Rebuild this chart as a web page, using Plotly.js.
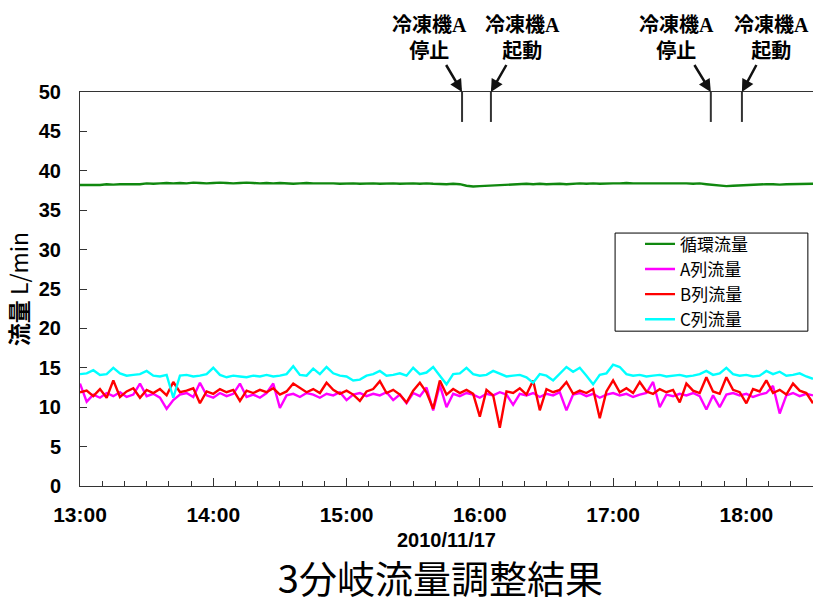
<!DOCTYPE html>
<html>
<head>
<meta charset="utf-8">
<script src="https://cdn.plot.ly/plotly-3.0.1.min.js"></script>
<style>html,body{margin:0;padding:0;background:#fff;}#chart{width:814px;height:604px;}</style>
</head>
<body>
<div id="chart"></div>
<script>
// sampling: every 3 minutes from 13:00 to 18:30 on 2010/11/17
const startTime = '2010-11-17T13:00:00';
const stepMinutes = 3;

const seriesNames = ['循環流量', 'A列流量', 'B列流量', 'C列流量'];

const circulation = [
38.2,38.2,38.25,38.2,38.3,38.25,38.3,38.3,38.35,38.3,
38.4,38.35,38.4,38.45,38.4,38.45,38.4,38.5,38.45,38.4,
38.45,38.5,38.45,38.4,38.45,38.5,38.45,38.4,38.45,38.4,
38.45,38.4,38.35,38.4,38.45,38.4,38.4,38.45,38.4,38.35,
38.4,38.4,38.35,38.4,38.4,38.35,38.4,38.4,38.35,38.4,
38.4,38.35,38.4,38.35,38.3,38.3,38.35,38.3,38.1,38.0,
38.05,38.1,38.15,38.2,38.25,38.3,38.3,38.35,38.3,38.35,
38.3,38.35,38.35,38.3,38.35,38.4,38.35,38.4,38.35,38.4,
38.4,38.4,38.45,38.4,38.4,38.45,38.4,38.4,38.45,38.4,
38.4,38.4,38.35,38.4,38.3,38.2,38.1,38.05,38.1,38.15,
38.2,38.2,38.25,38.3,38.3,38.25,38.3,38.3,38.3,38.3,38.35];

const rowA = [
13.0,10.7,11.6,11.2,11.8,11.4,11.9,11.3,11.6,13.0,
11.4,11.7,11.2,9.8,10.9,11.6,11.8,11.3,13.1,11.5,
11.2,11.8,11.4,11.7,13.0,11.3,11.6,11.2,11.8,13.0,
9.9,11.5,11.7,11.3,11.8,11.6,11.2,11.7,11.5,11.9,
10.9,11.6,11.8,11.4,11.7,11.5,11.9,10.9,11.6,10.5,
11.8,11.4,12.5,9.6,12.8,10.0,11.7,11.4,11.8,11.6,
11.2,11.7,11.5,11.9,11.6,10.3,11.7,11.5,11.8,11.3,
11.7,11.5,11.9,9.6,11.6,11.8,11.4,11.7,11.2,11.6,
11.8,11.5,11.7,11.3,11.6,11.8,13.2,10.0,11.6,11.4,
11.7,11.5,11.8,11.4,9.7,11.5,10.0,11.6,11.8,11.5,
11.7,11.3,11.6,11.8,12.7,9.2,11.5,11.8,11.4,11.7,11.5];

const rowB = [
11.9,12.1,11.4,12.3,11.2,13.4,11.3,12.0,12.4,11.2,
12.2,11.8,12.3,11.5,13.2,11.9,12.1,12.4,10.5,12.0,
11.7,12.3,11.9,12.2,10.8,12.1,11.8,12.2,11.9,12.4,
11.6,12.0,13.0,12.4,11.9,12.3,11.8,13.1,12.2,11.7,
12.1,11.6,10.8,12.0,12.3,13.3,11.8,12.2,11.6,10.6,
12.1,13.1,11.9,9.8,13.4,11.6,12.3,11.8,12.2,11.7,
8.8,12.2,11.5,7.4,12.0,11.8,12.4,11.6,13.4,9.6,
12.3,11.9,12.2,13.2,11.7,12.1,11.8,12.3,8.6,12.0,
13.4,11.9,12.4,11.8,13.2,12.0,11.7,12.3,11.9,12.2,
10.6,13.0,12.1,11.8,13.8,12.0,11.7,13.8,12.2,11.9,
10.5,12.3,12.0,13.4,11.8,12.2,11.6,13.0,12.1,11.8,10.5];

const rowC = [
14.2,14.3,14.7,14.1,14.2,15.0,14.3,14.0,14.1,14.2,
14.6,14.0,13.9,14.1,11.2,14.0,14.1,13.9,14.0,14.2,
15.0,14.1,13.8,14.0,13.9,13.8,14.0,13.9,14.1,13.9,
14.0,14.2,15.2,14.1,14.0,14.9,14.2,15.1,14.3,14.0,
13.9,13.4,13.5,14.0,14.2,14.6,14.0,14.1,14.3,14.0,
15.0,14.2,14.4,15.1,14.0,12.9,14.2,14.3,15.0,14.2,
14.0,14.1,14.6,14.2,13.9,14.0,14.1,13.8,13.1,14.2,
14.0,13.4,14.3,15.1,14.5,15.0,14.0,12.9,14.1,14.3,
15.4,15.1,14.2,14.0,14.1,13.9,14.0,14.1,13.9,14.0,
14.1,13.9,14.0,14.2,14.6,14.1,14.3,15.0,14.2,14.0,
14.1,13.9,14.0,14.6,14.2,14.5,14.0,14.1,14.3,13.9,13.6];

const seriesColors = ['#10880f', '#ff00ff', '#ff0000', '#00ffff'];

// events (冷凍機A stop / start)
const eventTimes = ['2010-11-17 15:52', '2010-11-17 16:05', '2010-11-17 17:44', '2010-11-17 17:58'];
const eventLabels = ['停止', '起動', '停止', '起動'];
const eventMarkTop = 50;
const eventMarkBottom = 46.2;

const xTickLabels = ['13:00', '14:00', '15:00', '16:00', '17:00', '18:00'];
const xTickValues = ['2010-11-17 13:00', '2010-11-17 14:00', '2010-11-17 15:00', '2010-11-17 16:00', '2010-11-17 17:00', '2010-11-17 18:00'];

function pad(n){return (n<10?'0':'')+n;}
const t0 = new Date(startTime);
const times = circulation.map((_, i) => {
  const d = new Date(t0.getTime() + i*stepMinutes*60000);
  return '2010-11-17 ' + pad(d.getHours()) + ':' + pad(d.getMinutes());
});

const allSeries = [circulation, rowA, rowB, rowC];
const traces = allSeries.map((vals, k) => ({
  type: 'scatter', mode: 'lines', x: times, y: vals, name: seriesNames[k],
  line: {color: seriesColors[k], width: 2.4}
}));

const numFont = {family: 'Liberation Sans, Arial, sans-serif', size: 20, color: '#000', weight: 'bold'};

const shapes = eventTimes.map(t => ({
  type: 'line', xref: 'x', yref: 'y', x0: t, x1: t, y0: eventMarkBottom, y1: eventMarkTop,
  line: {color: '#333', width: 2}
}));
// legend frame
shapes.push({
  type: 'rect', xref: 'paper', yref: 'paper', x0: 0.730, x1: 0.993, y0: 0.393, y1: 0.642,
  line: {color: '#000', width: 1}, fillcolor: '#fff', layer: 'below'
});

const axOffsets = [-33, 32, -34, 30];
const annotations = eventTimes.map((t, i) => ({
  x: t, y: eventMarkTop, xref: 'x', yref: 'y',
  text: '<b>冷凍機<span style="font-family:Liberation Serif">A</span><br>' + eventLabels[i] + '</b>',
  showarrow: true, arrowhead: 2, arrowsize: 1, arrowwidth: 2.5, arrowcolor: '#111',
  ax: axOffsets[i], ay: -56,
  font: {family: 'Noto Sans CJK JP, sans-serif', size: 20, color: '#000'},
  align: 'center'
}));

const layout = {
  width: 814, height: 604,
  margin: {l: 80, r: 1, t: 92, b: 118},
  paper_bgcolor: '#fff', plot_bgcolor: '#fff',
  showlegend: true,
  title: {
    text: '3分岐流量調整結果',
    font: {family: 'Noto Sans CJK JP, sans-serif', size: 38, color: '#000'},
    x: 0.541, xref: 'container', xanchor: 'center',
    y: 0.04, yref: 'container', yanchor: 'middle'
  },
  xaxis: {
    type: 'date',
    range: ['2010-11-17 13:00', '2010-11-17 18:30'],
    tickvals: xTickValues, ticktext: xTickLabels,
    ticks: 'inside', ticklen: 8, tickwidth: 1, tickcolor: '#333',
    minor: {dtick: 600000, ticks: 'inside', ticklen: 5, tickcolor: '#333', showgrid: false},
    showline: true, linecolor: '#333', linewidth: 1, mirror: true,
    showgrid: false, zeroline: false,
    tickfont: {family: 'Liberation Sans, Arial, sans-serif', size: 21, color: '#000', weight: 'bold'},
    ticklabelstandoff: 10,
    title: {text: '2010/11/17', font: {family: 'Liberation Sans, Arial, sans-serif', size: 20, color: '#000', weight: 'bold'}, standoff: 7},
    fixedrange: true
  },
  yaxis: {
    range: [0, 50], dtick: 5, tick0: 0,
    ticks: 'inside', ticklen: 7, tickwidth: 1, tickcolor: '#333',
    showline: true, linecolor: '#333', linewidth: 1, mirror: false,
    showgrid: false, zeroline: false,
    tickfont: numFont,
    ticklabelstandoff: 14,
    title: {text: '<b>流量</b> L/min', font: {family: 'Noto Sans CJK JP, sans-serif', size: 23, color: '#000'}, standoff: 3},
    fixedrange: true
  },
  legend: {
    x: 0.764, y: 0.659, xanchor: 'left', yanchor: 'top',
    bgcolor: 'rgba(0,0,0,0)', borderwidth: 0,
    font: {family: 'Noto Sans CJK JP, sans-serif', size: 17, color: '#000'},
    tracegroupgap: 0
  },
  shapes: shapes,
  annotations: annotations
};

Plotly.newPlot('chart', traces, layout, {displayModeBar: false, staticPlot: true});
</script>
</body>
</html>
